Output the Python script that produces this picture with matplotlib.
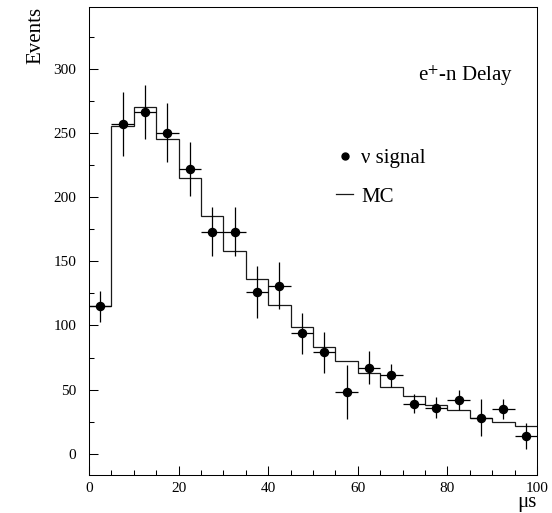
import matplotlib
matplotlib.use("Agg")
import matplotlib.pyplot as plt
from matplotlib.lines import Line2D
from matplotlib.ticker import MultipleLocator
import numpy as np

plt.rcParams['font.family'] = ['Liberation Serif', 'DejaVu Serif']
plt.rcParams['mathtext.fontset'] = 'stix'

# bin edges in microseconds
edges = np.arange(0, 105, 5)
centers = edges[:-1] + 2.5

# nu signal data points and errors
signal = [115, 257, 266, 250, 222, 173, 173, 126, 131, 94,
          79, 48, 67, 61, 39, 36, 42, 28, 35, 14]
signal_err = [12, 25, 21, 23, 21, 19, 19, 20, 18, 16,
              16, 21, 13, 9, 7.5, 8, 8, 14.5, 8, 10]

# Monte Carlo histogram
mc = [115, 255, 270, 245, 215, 185, 158, 136, 116, 99,
      83, 72, 63, 52, 45, 38, 34, 28, 25, 21.5]

fig = plt.figure(figsize=(5.52, 5.13), dpi=100)
ax = fig.add_axes([0.1612, 0.0741, 0.8116, 0.9123])

ax.stairs(mc, edges, baseline=None, color='#1a1a1a', lw=0.9)
ax.errorbar(centers, signal, yerr=signal_err, xerr=2.5, fmt='o', color='black',
            ms=5.8, elinewidth=0.9, capsize=0)

ax.set_xlim(0, 100)
ax.set_ylim(-16.5, 348)
ax.xaxis.set_major_locator(MultipleLocator(20))
ax.xaxis.set_minor_locator(MultipleLocator(5))
ax.yaxis.set_major_locator(MultipleLocator(50))
ax.yaxis.set_minor_locator(MultipleLocator(25))
ax.tick_params(which='both', direction='in', top=False, right=False, labelsize=11)
ax.tick_params(which='major', length=6.5, width=0.75)
ax.tick_params(which='minor', length=3.3, width=0.75)
ax.tick_params(axis='y', pad=9)
ax.tick_params(axis='x', pad=5)
for s in ax.spines.values():
    s.set_linewidth(0.75)

ax.set_xlabel('μs', fontsize=15, loc='right', labelpad=-1.5)
ax.set_ylabel('Events', fontsize=15, loc='top')
ax.yaxis.set_label_coords(-0.097, 1.0)

ax.text(0.946, 0.841, r'e$^{+}$-n Delay', transform=ax.transAxes,
        ha='right', va='baseline', fontsize=15)

handles = [Line2D([], [], marker='o', ls='none', color='black', ms=5),
           Line2D([], [], color='#1a1a1a', lw=0.9)]
ax.legend(handles, ['ν signal', 'MC'], loc='upper left', bbox_to_anchor=(0.552, 0.697),
          frameon=False, fontsize=15, handlelength=0.8, handletextpad=0.4,
          borderpad=0, borderaxespad=0, labelspacing=0.9)

fig.savefig('out.png', dpi=100)
